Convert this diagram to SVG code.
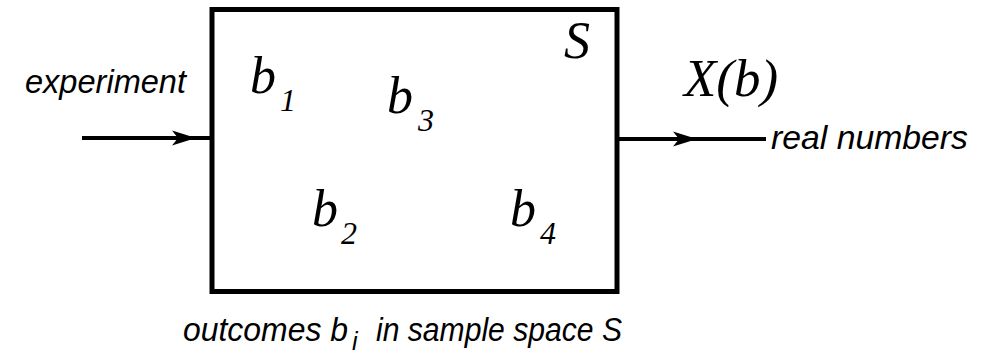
<svg xmlns="http://www.w3.org/2000/svg" width="992" height="359" viewBox="0 0 992 359">
<style>
.sans{font-family:"Liberation Sans",Arial,sans-serif;font-style:italic;font-size:33px;fill:#000}
.serif{font-family:"Liberation Serif","Times New Roman",serif;font-style:italic;font-size:52px;fill:#000}
.sub{font-family:"Liberation Serif","Times New Roman",serif;font-style:italic;font-size:32px;fill:#000}
.wire{fill:none;stroke:#000;stroke-width:4;marker-mid:url(#ah)}
</style>
<defs>
<marker id="ah" markerUnits="userSpaceOnUse" viewBox="-26 -10 30 20" markerWidth="30" markerHeight="20" refX="0" refY="0" orient="auto">
<path d="M0,0 L-24,-7.5 L-18,0 L-24,7.5 Z" fill="#000"/>
</marker>
</defs>
<rect width="992" height="359" fill="#fff"/>
<g id="connectors">
<path class="wire" d="M82,138 L196,138 L212,138"/>
<path class="wire" d="M617,139 L697,139 L766,139"/>
</g>
<g id="sample-space">
<rect x="212" y="9.5" width="405" height="282" fill="none" stroke="#000" stroke-width="5"/>
<text class="serif" x="564" y="58">S</text>
<text class="serif" x="250" y="93">b</text><text class="sub" x="280" y="111">1</text>
<text class="serif" x="387" y="113">b</text><text class="sub" x="418" y="131">3</text>
<text class="serif" x="312" y="226">b</text><text class="sub" x="341" y="244">2</text>
<text class="serif" x="510" y="226">b</text><text class="sub" x="540" y="244">4</text>
</g>
<g id="input-label">
<text class="sans" x="25" y="93" textLength="161" lengthAdjust="spacingAndGlyphs">experiment</text>
</g>
<g id="output-label">
<text class="serif" x="684" y="96" textLength="94" lengthAdjust="spacingAndGlyphs">X(b)</text>
<text class="sans" x="771" y="149" textLength="197" lengthAdjust="spacingAndGlyphs">real numbers</text>
</g>
<g id="caption">
<text class="sans" x="183" y="341" textLength="165" lengthAdjust="spacingAndGlyphs">outcomes b</text>
<text class="sans" x="352" y="350" style="font-size:25px">i</text>
<text class="sans" x="376" y="341" textLength="246" lengthAdjust="spacingAndGlyphs">in sample space S</text>
</g>
</svg>
